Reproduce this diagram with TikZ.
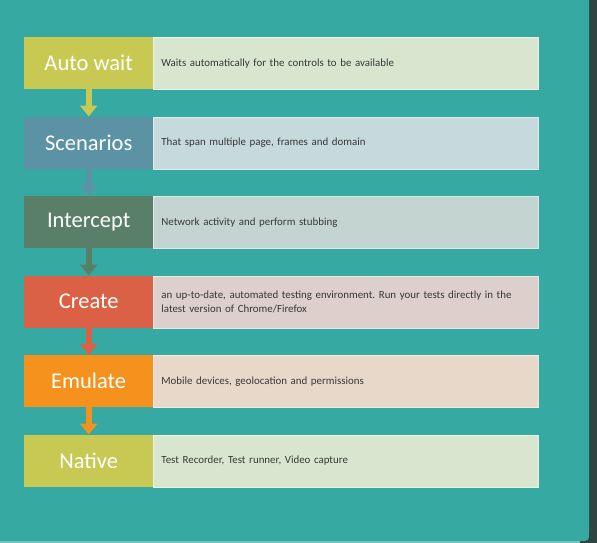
\documentclass[tikz,border=0pt]{standalone}
\usepackage{fontspec}
\setmainfont{Carlito}
\usetikzlibrary{arrows.meta}
\frenchspacing

\definecolor{bgteal}{HTML}{36A9A3}
\definecolor{edgedark}{HTML}{2E4541}
\definecolor{cAuto}{HTML}{C8C952}
\definecolor{tAuto}{HTML}{D8E6CF}
\definecolor{cScen}{HTML}{5B93A4}
\definecolor{tScen}{HTML}{C6D9DB}
\definecolor{cInt}{HTML}{5A7F69}
\definecolor{tInt}{HTML}{C4D5D1}
\definecolor{cCre}{HTML}{DB6146}
\definecolor{tCre}{HTML}{DDCFCB}
\definecolor{cEmu}{HTML}{F5921D}
\definecolor{tEmu}{HTML}{E8D8CA}
\definecolor{descink}{HTML}{383838}

\begin{document}
\begin{tikzpicture}[x=1pt,y=-1pt,
  stagebox/.style={fill=#1, minimum width=129pt, minimum height=52pt,
    inner sep=0pt, anchor=north west, text=white,
    font=\fontsize{22.5}{25}\selectfont},
  descbox/.style={fill=#1, draw=white!45!#1, line width=0.8pt,
    minimum width=385pt, minimum height=52pt, anchor=north west,
    inner xsep=8pt, inner ysep=0pt, text width=369pt, align=left,
    text=descink, font=\fontsize{10.9}{13.5}\selectfont},
  flow/.style={draw=#1, line width=6pt,
    -{Triangle[length=11pt,width=17pt,fill=#1]}, shorten <=-0.5pt}]

% backdrop
\useasboundingbox (0,0) rectangle (597,543);
\fill[edgedark] (0,0) rectangle (597,543);
\fill[bgteal] (0,0) -- (589,0) -- (589,532) .. controls (589,541) .. (580,541)
  -- (0,541) -- cycle;
\fill[bgteal!70!white] (0,541) rectangle (580,543);

% stages
\node[stagebox=cAuto] (s1) at (24,37)    {Auto wait};
\node[stagebox=cScen] (s2) at (24,116.5) {Scenarios};
\node[stagebox=cInt]  (s3) at (24,196)   {Intercept};
\node[stagebox=cCre]  (s4) at (24,275.5) {Create};
\node[stagebox=cEmu]  (s5) at (24,355)   {Emulate};
\node[stagebox=cAuto] (s6) at (24,434.5) {Native};

% descriptions
\node[descbox=tAuto] (d1) at (153,37)    {Waits automatically for the controls to be available};
\node[descbox=tScen] (d2) at (153,116.5) {That span multiple page, frames and domain};
\node[descbox=tInt]  (d3) at (153,196)   {Network activity and perform stubbing};
\node[descbox=tCre]  (d4) at (153,275.5) {an up-to-date, automated testing environment. Run your tests directly in the\\latest version of Chrome/Firefox};
\node[descbox=tEmu]  (d5) at (153,355)   {Mobile devices, geolocation and permissions};
\node[descbox=tAuto] (d6) at (153,434.5) {Test Recorder, Test runner, Video capture};

% connectors between stages
\draw[flow=cAuto] (s1.south) -- (s2.north);
\draw[flow=cScen] (s2.south) -- (s3.north);
\draw[flow=cInt]  (s3.south) -- (s4.north);
\draw[flow=cCre]  (s4.south) -- (s5.north);
\draw[flow=cEmu]  (s5.south) -- (s6.north);
\end{tikzpicture}
\end{document}
